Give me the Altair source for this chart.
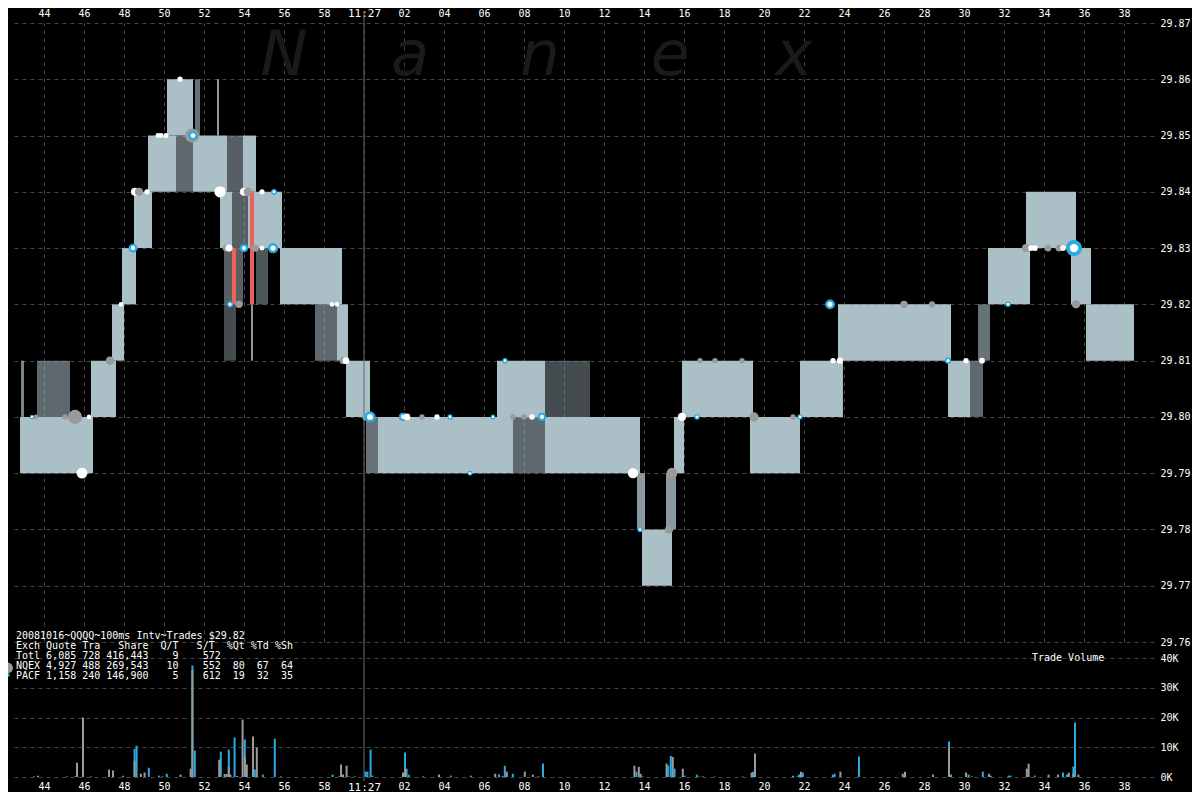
import altair as alt
import pandas as pd

MONO = "DejaVu Sans Mono"
NB = "\u00a0"

# ---------------- NBBO quote boxes (seconds from 11:27:00) ----------------
q_t0 = [-17.2, -17.15, -16.35, -13.65, -12.6, -12.1, -11.5, -10.8, -9.4, -8.55, -6.85, -6.05,
        -9.85, -8.45, -7.35, -7.2, -6.6, -5.8, -7.0, -7.0, -5.65, -5.4, -4.2, -2.45, -1.35,
        -0.9, 0.1, 0.7, 7.45, 9.05, 6.65, 9.05, 13.65, 13.9, 15.1, 15.5, 15.9, 19.3, 21.8,
        23.7, 29.2, 30.3, 30.7, 31.2, 33.1, 35.35, 36.1]
q_t1 = [-13.55, -17.0, -14.7, -12.4, -12.0, -11.4, -10.6, -9.4, -8.55, -6.85, -6.05, -5.4,
        -8.55, -8.2, -7.25, -6.6, -5.8, -4.1, -6.05, -6.4, -5.55, -4.8, -1.1, -1.35, -0.8,
        0.3, 0.7, 7.45, 9.05, 13.8, 9.05, 11.3, 14.05, 15.4, 15.6, 16.0, 19.45, 21.8, 23.95,
        29.35, 30.3, 30.95, 31.3, 33.3, 35.6, 36.35, 38.5]
q_lo = [29.79, 29.80, 29.80, 29.80, 29.81, 29.82, 29.83, 29.84, 29.84, 29.84, 29.84, 29.84,
        29.85, 29.85, 29.85, 29.83, 29.83, 29.83, 29.82, 29.81, 29.81, 29.82, 29.82, 29.81, 29.81,
        29.80, 29.79, 29.79, 29.79, 29.79, 29.80, 29.80, 29.78, 29.77, 29.78, 29.79, 29.80, 29.79, 29.80,
        29.81, 29.80, 29.80, 29.81, 29.82, 29.83, 29.82, 29.81]
q_hi = [29.80, 29.81, 29.81, 29.81, 29.82, 29.83, 29.84, 29.85, 29.85, 29.85, 29.85, 29.85,
        29.86, 29.86, 29.86, 29.84, 29.84, 29.84, 29.83, 29.82, 29.82, 29.83, 29.83, 29.82, 29.82,
        29.81, 29.80, 29.80, 29.80, 29.80, 29.81, 29.81, 29.79, 29.78, 29.79, 29.80, 29.81, 29.80, 29.81,
        29.82, 29.81, 29.81, 29.82, 29.83, 29.84, 29.83, 29.82]
q_den = [1, 0.7, 0.55, 1, 1, 1, 1, 1, 0.55, 1, 0.5, 1,
         1, 0.6, 0.8, 1, 0.5, 1, 0.5, 0.4, 0.8, 0.45, 1, 0.55, 1,
         1, 0.6, 1, 0.55, 1, 1, 0.4, 0.8, 1, 0.8, 1, 1, 1, 1,
         1, 1, 0.55, 0.6, 1, 1, 1, 1]

# crossed / locked quote spikes (red)
red_t0 = [-6.6, -5.7]
red_t1 = [-6.4, -5.5]
red_lo = [29.82, 29.82]
red_hi = [29.83, 29.84]

# ---------------- trades (markers) ----------------
tr_t = [-16.6, -16.4, -14.95, -14.45, -13.75, -14.1, -12.7, -12.15, -11.55,
        -11.45, -11.25, -10.85, -10.3, -10.15, -9.9, -9.2, -8.6, -8.55,
        -7.2, -6.0, -5.8, -5.1, -4.5, -6.9, -6.75, -6.0, -5.45, -5.1, -4.55,
        -6.7, -6.25, -1.6, -1.35, -1.05, -0.9, 0.1, 0.3, 1.95, 2.15,
        2.9, 3.65, 4.3, 5.3, 6.45, 7.05, 7.45, 8.0, 8.4, 8.9,
        13.45, 13.8, 15.25, 15.4, 15.9, 16.65, 16.8, 17.55, 18.9, 19.5,
        21.45, 21.8, 23.3, 23.45, 23.8, 27.0, 28.4, 29.2, 30.1, 30.9,
        32.2, 33.1, 33.35, 33.55, 34.2, 34.75, 34.95, 35.5, 35.6]
tr_px = [29.80, 29.80, 29.80, 29.80, 29.80, 29.79, 29.81, 29.82, 29.83,
         29.84, 29.84, 29.84, 29.85, 29.85, 29.85, 29.86, 29.85, 29.85,
         29.84, 29.84, 29.84, 29.84, 29.84, 29.83, 29.83, 29.83, 29.83, 29.83, 29.83,
         29.82, 29.82, 29.82, 29.82, 29.81, 29.81, 29.80, 29.80, 29.80, 29.80,
         29.80, 29.80, 29.80, 29.79, 29.80, 29.81, 29.80, 29.80, 29.80, 29.80,
         29.79, 29.78, 29.78, 29.79, 29.80, 29.80, 29.81, 29.81, 29.81, 29.80,
         29.80, 29.80, 29.82, 29.81, 29.81, 29.82, 29.82, 29.81, 29.81, 29.81,
         29.82, 29.83, 29.83, 29.83, 29.83, 29.83, 29.83, 29.83, 29.82]
tr_kind = ["P", "N", "N", "N", "W", "W", "N", "W", "P",
           "W", "N", "W", "W", "W", "W", "W", "N", "P",
           "W", "W", "N", "W", "P", "N", "W", "P", "N", "W", "P",
           "P", "N", "W", "W", "N", "W", "N", "P", "P", "W",
           "N", "W", "P", "P", "P", "P", "N", "N", "W", "P",
           "W", "P", "N", "N", "W", "P", "N", "N", "N", "N",
           "N", "P", "P", "W", "W", "N", "N", "P", "W", "W",
           "P", "N", "W", "W", "N", "N", "W", "P", "N"]
tr_size = [300, 400, 800, 9000, 400, 5000, 2500, 400, 3000,
           2500, 2500, 700, 500, 500, 600, 700, 9000, 3500,
           5500, 2500, 3000, 600, 900, 1500, 1800, 2500, 2000, 500, 4500,
           1200, 2000, 500, 400, 1500, 1500, 2000, 5500, 2500, 1500,
           700, 700, 700, 500, 500, 700, 700, 800, 800, 2500,
           4500, 600, 2500, 5000, 2500, 800, 700, 700, 700, 3500,
           700, 700, 4000, 700, 1200, 2000, 1200, 1200, 700, 900,
           800, 2500, 900, 900, 1500, 1500, 900, 12000, 2500]

# ---------------- trade volume bars ----------------
vol_t = [-16.5, -16.3, -14.85, -14.45, -14.35, -14.05, -13.65, -12.75, -12.55, -12.05,
         -11.47, -11.47, -11.37, -11.16, -10.97, -10.76, -10.26, -10.07, -9.86, -9.17,
         -8.67, -8.58, -8.58, -8.46, -7.24, -7.16, -6.97, -6.87, -6.76, -6.76, -6.68,
         -6.47, -6.34, -6.07, -5.96, -5.96, -5.86, -5.55, -5.46, -5.36, -5.06, -4.46, -4.15,
         -1.57, -1.25, -1.15, -1.05, -0.87, -0.77, -0.45, 0.08, 0.17, 0.33, 0.42,
         1.95, 2.05, 2.05, 2.13, 2.24, 2.95, 3.75, 4.34, 5.34,
         6.56, 6.75, 6.93, 7.04, 7.14, 7.44, 8.04, 8.44, 8.73, 8.95,
         13.52, 13.62, 13.74, 13.83, 13.95, 15.13, 15.21, 15.34, 15.44, 15.53, 15.94, 16.03,
         16.64, 16.78, 16.95, 17.54, 18.92, 19.38, 19.45, 19.55,
         21.45, 21.65, 21.75, 21.85, 21.94, 23.44, 23.53, 23.82, 24.75, 26.94, 27.05, 28.45,
         29.25, 29.25, 29.35, 30.1, 30.23, 30.4, 30.94, 31.25, 31.34, 32.23, 32.33,
         33.14, 33.23, 33.54, 34.23, 34.7, 34.95, 35.15, 35.24, 35.47, 35.47, 35.55, 35.72]
vol_exch = ["P", "N", "N", "N", "N", "N", "N", "N", "N", "P",
            "P", "N", "P", "N", "N", "P", "P", "N", "P", "N",
            "N", "P", "N", "P", "N", "P", "N", "N", "N", "P", "N",
            "P", "N", "N", "P", "N", "N", "N", "P", "N", "P", "P", "N",
            "P", "N", "N", "N", "N", "P", "N", "P", "P", "P", "P",
            "N", "P", "N", "P", "P", "N", "N", "P", "P",
            "N", "P", "N", "P", "N", "P", "N", "N", "N", "P",
            "N", "P", "N", "N", "P", "N", "P", "P", "N", "P", "N", "P",
            "P", "N", "N", "N", "N", "N", "P", "N",
            "N", "P", "P", "N", "P", "P", "P", "N", "P", "N", "N", "N",
            "P", "N", "P", "N", "P", "N", "P", "N", "P", "P", "P",
            "N", "N", "P", "N", "N", "P", "P", "N", "P", "N", "P", "N"]
vol_sz = [200, 450, 150, 150, 4800, 20000, 150, 2500, 2200, 450,
          9500, 5500, 10500, 1100, 1500, 3100, 450, 200, 1100, 800,
          2800, 37500, 36000, 8900, 5800, 8500, 1000, 1000, 3300, 9200, 800,
          13300, 300, 19300, 12600, 6700, 4200, 13600, 2500, 9900, 800, 12900, 150,
          800, 200, 4200, 800, 3800, 200, 150, 1800, 1800, 9200, 450,
          1500, 8200, 2700, 2800, 800, 150, 800, 450, 450,
          1100, 800, 300, 3800, 1800, 1100, 1800, 800, 200, 4500,
          3800, 1800, 3400, 1100, 200, 4500, 3800, 7100, 6700, 2800, 2800, 450,
          800, 150, 150, 150, 150, 1500, 1800, 7900,
          450, 200, 800, 1800, 1500, 800, 1100, 1800, 6900, 1100, 1800, 800,
          11900, 9800, 800, 1500, 800, 150, 1800, 1100, 450, 450, 450,
          2800, 4500, 450, 800, 800, 1500, 800, 1500, 3500, 1200, 18300, 800]

# ---------------- axes / labels ----------------
time_ticks = list(range(-16, 39, 2))
price_ticks = [29.76, 29.77, 29.78, 29.79, 29.80, 29.81, 29.82, 29.83, 29.84, 29.85, 29.86, 29.87]
vol_ticks = [0, 10000, 20000, 30000, 40000]
legend_lines = [
    "20081016~QQQQ~100ms Intv~Trades $29.82",
    "Exch Quote Tra   Share  Q/T   S/T  %Qt %Td %Sh",
    "Totl 6,085 728 416,443    9    572",
    "NQEX 4,927 488 269,543   10    552  80  67  64",
    "PACF 1,158 240 146,900    5    612  19  32  35",
]
wm_letters = ["N", "a", "n", "e", "x"]
wm_px = [270, 396, 526, 656, 780]
vol_title = "Trade Volume"

# ---------------- tables ----------------
quotes = pd.DataFrame({"t0": q_t0, "t1": q_t1, "lo": q_lo, "hi": q_hi, "den": q_den})
reds = pd.DataFrame({"t0": red_t0, "t1": red_t1, "lo": red_lo, "hi": red_hi})
trades = pd.DataFrame({"t": tr_t, "px": tr_px, "kind": tr_kind, "sz": tr_size})
vols = pd.DataFrame({"t": vol_t, "exch": vol_exch, "v": vol_sz}).sort_values("v", ascending=False)
wmdf = pd.DataFrame({"ch": wm_letters, "xp": wm_px})

GRID = "#444444"
H = 760
xscale = alt.Scale(domain=[-17.5, 39.5], nice=False, zero=False, padding=0)
pscale = alt.Scale(domain=[29.76, 29.87], range=[623, 4], nice=False, zero=False)
vscale = alt.Scale(domain=[0, 40000], range=[758, 639], nice=False)
cscale = alt.Scale(domain=["N", "P", "W"], range=["#9a9a9a", "#29abe2", "#ffffff"])

lbl_expr = ("datum.value == 0 ? '11:27' : (datum.value < 0 ? '' + (60 + datum.value) : "
            "(datum.value < 10 ? '0' + datum.value : '' + datum.value))")
lbl_size = {"condition": {"test": "datum.value == 0", "value": 11}, "value": 10}
top_axis = alt.Axis(orient="top", values=time_ticks, labelExpr=lbl_expr, grid=True,
                    gridColor=GRID, gridDash=[4, 4], ticks=False, domain=False,
                    labelColor="white", labelFont=MONO, labelFontSize=lbl_size,
                    labelPadding=1, title=None, labelFlush=False, labelOverlap=False)
bot_axis = alt.Axis(orient="bottom", values=time_ticks, labelExpr=lbl_expr, grid=False,
                    ticks=False, domain=False, labelColor="white", labelFont=MONO,
                    labelFontSize=lbl_size, labelPadding=2, title=None,
                    labelFlush=False, labelOverlap=False)
p_axis = alt.Axis(orient="right", values=price_ticks, format=".2f", grid=True, gridColor=GRID,
                  gridDash=[4, 4], ticks=False, domain=False, labelColor="white", labelFont=MONO,
                  labelFontSize=10, labelPadding=6, title=None, labelAlign="left")
v_axis = alt.Axis(orient="right", values=vol_ticks, labelExpr="floor(datum.value / 1000) + 'K'",
                  grid=True, gridColor=GRID, gridDash=[4, 4], ticks=False, domain=False,
                  labelColor="white", labelFont=MONO, labelFontSize=10, labelPadding=6,
                  title=None, labelAlign="left")

one = pd.DataFrame({"a": [0]})

wm = alt.Chart(wmdf).mark_text(font="DejaVu Sans", fontStyle="italic", fontSize=63,
                               color="#1a1a1a", align="center", baseline="alphabetic").encode(
    text="ch:N", x=alt.X("xp:Q", scale=None), y=alt.value(56))

boxes = alt.Chart(quotes).mark_rect(color="#abbfc7").encode(
    x=alt.X("t0:Q", scale=xscale, axis=top_axis),
    x2="t1:Q",
    y=alt.Y("lo:Q", scale=pscale, axis=p_axis),
    y2="hi:Q",
    opacity=alt.Opacity("den:Q", scale=None, legend=None),
)
red = alt.Chart(reds).mark_rect(color="#f0605a").encode(
    x=alt.X("t0:Q", scale=xscale, axis=top_axis), x2="t1:Q",
    y=alt.Y("lo:Q", scale=pscale, axis=p_axis), y2="hi:Q")

now_rule = alt.Chart(pd.DataFrame({"t": [0]})).mark_rule(color="#6a6a6a", strokeWidth=1).encode(
    x=alt.X("t:Q", scale=xscale, axis=top_axis), y=alt.value(-7), y2=alt.value(H + 2))

outer = alt.Chart(trades).mark_circle(opacity=1).encode(
    x=alt.X("t:Q", scale=xscale, axis=top_axis),
    y=alt.Y("px:Q", scale=pscale, axis=p_axis),
    color=alt.Color("kind:N", scale=cscale, legend=None),
    size=alt.Size("sz:Q", scale=alt.Scale(domain=[0, 12000], range=[14, 260]), legend=None),
)
inner = alt.Chart(trades).transform_filter("datum.kind == 'P'").mark_circle(
    opacity=1, color="white").encode(
    x=alt.X("t:Q", scale=xscale, axis=top_axis),
    y=alt.Y("px:Q", scale=pscale, axis=p_axis),
    size=alt.Size("sz:Q", scale=alt.Scale(domain=[0, 12000], range=[3, 70]), legend=None),
)

info = alt.Chart(one).mark_text(text=[l.replace(" ", NB) for l in legend_lines], font=MONO,
                                fontSize=10, color="white", align="left", baseline="top",
                                lineHeight=10).encode(x=alt.value(2), y=alt.value(612))
leg_n = alt.Chart(one).mark_circle(color="#9a9a9a", opacity=1, size=120).encode(
    x=alt.value(-6.5), y=alt.value(649))
leg_p = alt.Chart(one).mark_circle(color="#29abe2", opacity=1, size=14).encode(
    x=alt.value(-6), y=alt.value(656))
vtitle = alt.Chart(one).mark_text(text=vol_title.replace(" ", NB), font=MONO, fontSize=10,
                                  color="white", align="left", baseline="middle").encode(
    x=alt.value(1018), y=alt.value(639))

price = alt.layer(wm, boxes, red, now_rule, outer, inner, info, leg_n, leg_p, vtitle).resolve_scale(
    size="independent")

bars = alt.Chart(vols).mark_bar(width=2).encode(
    x=alt.X("t:Q", scale=xscale, axis=bot_axis),
    y=alt.Y("v:Q", scale=vscale, axis=v_axis, stack=None),
    color=alt.Color("exch:N", scale=cscale, legend=None),
)

chart = alt.layer(price, bars).resolve_scale(y="independent").resolve_axis(
    x="independent", y="independent").properties(
    width=1140, height=H, background="black",
    padding={"left": 6, "top": 11, "right": 38, "bottom": 13},
    autosize=alt.AutoSizeParams(type="none"),
).configure_view(stroke=None)

chart.save("out.html", embed_options={"renderer": "svg", "actions": False})
